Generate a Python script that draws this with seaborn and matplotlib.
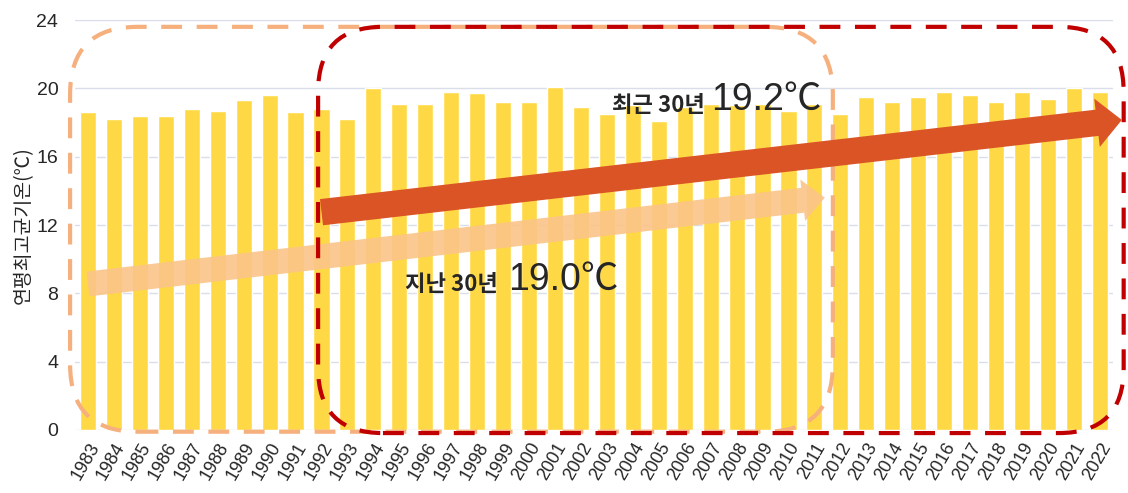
import pandas as pd
import matplotlib
matplotlib.use("Agg")
import matplotlib.pyplot as plt
import seaborn as sns
from matplotlib.patches import FancyBboxPatch

# --- veri ---
years = [str(y) for y in range(1983, 2023)]
tmax = [18.6, 18.2, 18.4, 18.4, 18.8, 18.7, 19.3, 19.6, 18.6, 18.8,
        18.2, 20.0, 19.1, 19.1, 19.8, 19.7, 19.2, 19.2, 20.1, 18.9,
        18.5, 19.0, 18.1, 18.9, 19.1, 19.0, 19.1, 18.7, 19.1, 18.5,
        19.5, 19.2, 19.5, 19.8, 19.6, 19.2, 19.8, 19.4, 20.0, 19.8]
yticks = [0, 4, 8, 12, 16, 20, 24]
ylabel = "연평최고균기온(℃)"
label_past = ("지난 30년", "19.0℃")
label_recent = ("최근 30년", "19.2℃")
# trend okları (başlangıç / bitiş: yıl indeksi, değer)
past_arrow = [(0.0, 8.55), (28.4, 13.6)]
recent_arrow = [(9.0, 12.75), (39.85, 18.15)]

sns.set_theme(style="whitegrid")
plt.rcParams['font.family'] = ['Noto Sans CJK KR', 'DejaVu Sans']
num_font = ['Liberation Sans', 'Noto Sans CJK KR']

df = pd.DataFrame({"year": years, "tmax": tmax})

fig = plt.figure(figsize=(11.28, 4.93), dpi=100)
ax = fig.add_axes([0.0665, 0.1278, 0.920, 0.8316])

sns.barplot(data=df, x="year", y="tmax", color="#FFD945", saturation=1,
            width=0.62, ax=ax, zorder=2)

ax.set_ylim(0, 24)
ax.set_xlim(-0.5, 39.5)
ax.set_yticks(yticks)
ax.set_yticklabels([str(t) for t in yticks], fontsize=14, family=num_font)
ax.tick_params(axis="x", pad=1)
ax.tick_params(axis="y", pad=6)
for lab in ax.get_xticklabels():
    lab.set_rotation(60)
    lab.set_ha("right")
    lab.set_rotation_mode("anchor")
    lab.set_fontsize(13)
    lab.set_family(num_font)
ax.set_xlabel("")
ax.set_ylabel(ylabel, fontsize=14, labelpad=2)
ax.grid(axis="y", color="#D9DEEA", linewidth=1)
ax.grid(axis="x", visible=False)
for s in ax.spines.values():
    s.set_visible(False)
ax.set_facecolor("white")

# kesikli yuvarlak kutular
asp = (1 / 17.08) / (1 / 25.95)
box1 = FancyBboxPatch((-0.69, -0.1), 29.4, 23.7,
                      boxstyle="round,pad=0,rounding_size=2.6",
                      mutation_aspect=asp, fill=False, edgecolor="#F5B07E",
                      linewidth=3, linestyle=(0, (5, 3.5)), clip_on=False, zorder=4)
box2 = FancyBboxPatch((8.87, -0.18), 31.05, 23.78,
                      boxstyle="round,pad=0,rounding_size=2.5",
                      mutation_aspect=asp, fill=False, edgecolor="#C00000",
                      linewidth=3, linestyle=(0, (5, 3.5)), clip_on=False, zorder=5)
ax.add_patch(box1)
ax.add_patch(box2)

# trend okları
ax.annotate("", xy=past_arrow[1], xytext=past_arrow[0], annotation_clip=False,
            arrowprops=dict(arrowstyle="simple,head_width=1.5,head_length=0.8,tail_width=0.9",
                            mutation_scale=20, color="#FBC488", alpha=0.9,
                            shrinkA=0, shrinkB=0, lw=0), zorder=3)
ax.annotate("", xy=recent_arrow[1], xytext=recent_arrow[0], annotation_clip=False,
            arrowprops=dict(arrowstyle="simple,head_width=1.75,head_length=0.9,tail_width=0.95",
                            mutation_scale=20, color="#DA5426",
                            shrinkA=0, shrinkB=0, lw=0), zorder=6)

# yazılar
ax.text(20.2, 19.0, label_recent[0], fontsize=16, fontweight="bold",
        va="center", ha="left", zorder=7)
ax.text(24.0, 19.3, label_recent[1], fontsize=27, family=num_font,
        va="center", ha="left", zorder=7)
ax.text(12.2, 8.5, label_past[0], fontsize=16, fontweight="bold",
        va="center", ha="left", zorder=7)
ax.text(16.2, 8.8, label_past[1], fontsize=27, family=num_font,
        va="center", ha="left", zorder=7)

plt.savefig("out.png", dpi=100)
